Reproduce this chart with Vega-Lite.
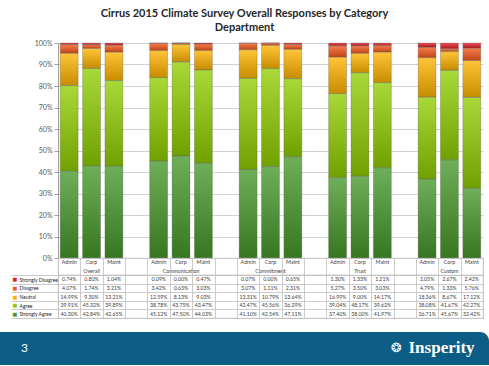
{
  "$schema": "https://vega.github.io/schema/vega-lite/v6.json",
  "padding": {"top": 8, "left": 0, "right": 0, "bottom": 0},
  "background": "white",
  "config": {"font": "Lato", "view": {"stroke": null}},
  "title": {
    "text": ["Cirrus 2015 Climate Survey Overall Responses by Category", "Department"],
    "font": "Lato", "fontSize": 11, "fontWeight": "bold", "color": "#262626",
    "lineHeight": 14, "offset": 6, "anchor": "middle", "frame": "bounds"
  },
  "datasets": {
    "survey": [
      {"group": "Overall", "dept": "Admin", "Strongly Disagree": 0.0074, "Disagree": 0.0407, "Neutral": 0.1499, "Agree": 0.3991, "Strongly Agree": 0.4030},
      {"group": "Overall", "dept": "Corp", "Strongly Disagree": 0.0080, "Disagree": 0.0174, "Neutral": 0.0930, "Agree": 0.4532, "Strongly Agree": 0.4284},
      {"group": "Overall", "dept": "Maint", "Strongly Disagree": 0.0104, "Disagree": 0.0321, "Neutral": 0.1321, "Agree": 0.3989, "Strongly Agree": 0.4265},
      {"group": "Communication", "dept": "Admin", "Strongly Disagree": 0.0009, "Disagree": 0.0342, "Neutral": 0.1259, "Agree": 0.3878, "Strongly Agree": 0.4512},
      {"group": "Communication", "dept": "Corp", "Strongly Disagree": 0.0000, "Disagree": 0.0063, "Neutral": 0.0813, "Agree": 0.4375, "Strongly Agree": 0.4750},
      {"group": "Communication", "dept": "Maint", "Strongly Disagree": 0.0047, "Disagree": 0.0303, "Neutral": 0.0903, "Agree": 0.4347, "Strongly Agree": 0.4403},
      {"group": "Commitment", "dept": "Admin", "Strongly Disagree": 0.0007, "Disagree": 0.0307, "Neutral": 0.1331, "Agree": 0.4247, "Strongly Agree": 0.4110},
      {"group": "Commitment", "dept": "Corp", "Strongly Disagree": 0.0000, "Disagree": 0.0111, "Neutral": 0.1079, "Agree": 0.4556, "Strongly Agree": 0.4254},
      {"group": "Commitment", "dept": "Maint", "Strongly Disagree": 0.0065, "Disagree": 0.0231, "Neutral": 0.1364, "Agree": 0.3629, "Strongly Agree": 0.4711},
      {"group": "Trust", "dept": "Admin", "Strongly Disagree": 0.0130, "Disagree": 0.0527, "Neutral": 0.1699, "Agree": 0.3904, "Strongly Agree": 0.3740},
      {"group": "Trust", "dept": "Corp", "Strongly Disagree": 0.0133, "Disagree": 0.0350, "Neutral": 0.0900, "Agree": 0.4817, "Strongly Agree": 0.3800},
      {"group": "Trust", "dept": "Maint", "Strongly Disagree": 0.0121, "Disagree": 0.0303, "Neutral": 0.1417, "Agree": 0.3962, "Strongly Agree": 0.4197},
      {"group": "Custom", "dept": "Admin", "Strongly Disagree": 0.0205, "Disagree": 0.0479, "Neutral": 0.1836, "Agree": 0.3808, "Strongly Agree": 0.3671},
      {"group": "Custom", "dept": "Corp", "Strongly Disagree": 0.0267, "Disagree": 0.0133, "Neutral": 0.0867, "Agree": 0.4167, "Strongly Agree": 0.4567},
      {"group": "Custom", "dept": "Maint", "Strongly Disagree": 0.0242, "Disagree": 0.0576, "Neutral": 0.1712, "Agree": 0.4227, "Strongly Agree": 0.3242}
    ]
  },
  "vconcat": [
    {
      "width": 425,
      "height": 215,
      "data": {"name": "survey"},
      "transform": [
        {"fold": ["Strongly Disagree", "Disagree", "Neutral", "Agree", "Strongly Agree"], "as": ["level", "pct"]},
        {"calculate": "datum.group + ' ' + datum.dept", "as": "slot"},
        {"calculate": "indexof(['Strongly Agree','Agree','Neutral','Disagree','Strongly Disagree'], datum.level)", "as": "rank"}
      ],
      "encoding": {
        "x": {
          "field": "slot", "type": "nominal",
          "scale": {
            "domain": ["Overall Admin", "Overall Corp", "Overall Maint", "gap1", "Communication Admin", "Communication Corp", "Communication Maint", "gap2", "Commitment Admin", "Commitment Corp", "Commitment Maint", "gap3", "Trust Admin", "Trust Corp", "Trust Maint", "gap4", "Custom Admin", "Custom Corp", "Custom Maint"],
            "paddingInner": 0.2, "paddingOuter": 0.1
          },
          "axis": null
        },
        "y": {
          "field": "pct", "type": "quantitative", "stack": "normalize",
          "scale": {"domain": [0, 1], "nice": false},
          "axis": {
            "title": null, "values": [0, 0.1, 0.2, 0.3, 0.4, 0.5, 0.6, 0.7, 0.8, 0.9, 1],
            "format": ".0%", "labelFontSize": 7, "labelColor": "#595959", "labelPadding": 2,
            "tickSize": 4, "tickColor": "#868686", "tickWidth": 0.8,
            "domainColor": "#868686", "domainWidth": 0.8,
            "grid": true, "gridColor": "#c6c6c6", "gridWidth": 0.8
          }
        },
        "order": {"field": "rank", "type": "quantitative"}
      },
      "layer": [
        {
          "mark": {"type": "bar"},
          "encoding": {
            "color": {
              "field": "level", "type": "nominal",
              "scale": {"domain": ["Strongly Disagree", "Disagree", "Neutral", "Agree", "Strongly Agree"], "range": ["#e21f26", "#f4581c", "#ffb300", "#8fce00", "#46982a"]},
              "legend": null
            }
          }
        },
        {
          "mark": {
            "type": "bar",
            "fill": {"gradient": "linear", "x1": 0, "y1": 0, "x2": 0, "y2": 1, "stops": [{"offset": 0, "color": "rgba(255,255,255,0.22)"}, {"offset": 1, "color": "rgba(0,0,0,0.22)"}]},
            "stroke": "#5f5f5f", "strokeWidth": 0.5, "strokeOpacity": 0.6
          },
          "encoding": {"detail": {"field": "level", "type": "nominal"}}
        }
      ]
    },
    {
      "width": 425,
      "height": 17,
      "view": {"stroke": "#bfbfbf", "strokeWidth": 0.8},
      "data": {"name": "survey"},
      "transform": [{"calculate": "datum.group + ' ' + datum.dept", "as": "slot"}],
      "encoding": {
        "x": {
          "field": "slot", "type": "nominal",
          "scale": {
            "domain": ["Overall Admin", "Overall Corp", "Overall Maint", "gap1", "Communication Admin", "Communication Corp", "Communication Maint", "gap2", "Commitment Admin", "Commitment Corp", "Commitment Maint", "gap3", "Trust Admin", "Trust Corp", "Trust Maint", "gap4", "Custom Admin", "Custom Corp", "Custom Maint"],
            "paddingInner": 0, "paddingOuter": 0
          },
          "axis": {"orient": "top", "title": null, "labels": false, "ticks": false, "domain": false, "grid": true, "tickBand": "extent", "gridColor": "#bfbfbf", "gridWidth": 0.8}
        }
      },
      "layer": [
        {
          "transform": [{"filter": "datum.dept === 'Corp'"}],
          "mark": {"type": "rect", "fill": "white", "stroke": "white", "strokeWidth": 1.6},
          "encoding": {"y": {"datum": "h2", "type": "nominal", "scale": {"domain": ["h1", "h2"], "paddingInner": 0, "paddingOuter": 0}, "axis": null}}
        },
        {
          "mark": {"type": "text", "fontSize": 5.3, "color": "#404040"},
          "encoding": {"y": {"datum": "h1", "type": "nominal", "axis": null}, "text": {"field": "dept"}}
        },
        {
          "transform": [{"filter": "datum.dept === 'Corp'"}],
          "mark": {"type": "text", "fontSize": 5.3, "color": "#404040"},
          "encoding": {"y": {"datum": "h2", "type": "nominal", "axis": null}, "text": {"field": "group"}}
        }
      ]
    },
    {
      "width": 425,
      "height": 43,
      "view": {"stroke": "#bfbfbf", "strokeWidth": 0.8},
      "data": {"name": "survey"},
      "transform": [
        {"fold": ["Strongly Disagree", "Disagree", "Neutral", "Agree", "Strongly Agree"], "as": ["level", "pct"]},
        {"calculate": "datum.group + ' ' + datum.dept", "as": "slot"}
      ],
      "encoding": {
        "x": {
          "field": "slot", "type": "nominal",
          "scale": {
            "domain": ["Overall Admin", "Overall Corp", "Overall Maint", "gap1", "Communication Admin", "Communication Corp", "Communication Maint", "gap2", "Commitment Admin", "Commitment Corp", "Commitment Maint", "gap3", "Trust Admin", "Trust Corp", "Trust Maint", "gap4", "Custom Admin", "Custom Corp", "Custom Maint"],
            "paddingInner": 0, "paddingOuter": 0
          },
          "axis": {"orient": "top", "title": null, "labels": false, "ticks": false, "domain": false, "grid": true, "tickBand": "extent", "gridColor": "#bfbfbf", "gridWidth": 0.8}
        }
      },
      "layer": [
        {
          "mark": {"type": "text", "fontSize": 5.2, "color": "#404040"},
          "encoding": {
            "y": {
              "field": "level", "type": "nominal",
              "scale": {"domain": ["Strongly Disagree", "Disagree", "Neutral", "Agree", "Strongly Agree"], "paddingInner": 0, "paddingOuter": 0},
              "axis": {
                "orient": "left", "title": null, "labelAlign": "left", "labelPadding": -8,
                "labelFontSize": 5, "labelColor": "#262626",
                "tickSize": 47, "tickBand": "extent", "tickColor": "#bfbfbf", "tickWidth": 0.8,
                "domain": false, "grid": true, "gridColor": "#bfbfbf", "gridWidth": 0.8
              }
            },
            "text": {"field": "pct", "type": "quantitative", "format": ".2%"}
          }
        },
        {
          "mark": {"type": "text", "opacity": 0},
          "encoding": {
            "y": {
              "field": "level", "type": "nominal",
              "axis": {
                "orient": "left", "title": null, "labelExpr": "'■'", "labelAlign": "left", "labelPadding": 46,
                "labelFontSize": 5, "labelFont": "DejaVu Sans",
                "labelColor": {
                  "condition": [
                    {"test": "datum.value === 'Strongly Disagree'", "value": "#e21f26"},
                    {"test": "datum.value === 'Disagree'", "value": "#f4581c"},
                    {"test": "datum.value === 'Neutral'", "value": "#ffb300"},
                    {"test": "datum.value === 'Agree'", "value": "#8fce00"}
                  ],
                  "value": "#46982a"
                },
                "ticks": false, "domain": false, "grid": false
              }
            },
            "text": {"value": ""}
          }
        }
      ],
      "resolve": {"axis": {"y": "independent"}}
    },
    {
      "width": 425,
      "height": 47,
      "data": {"values": [{"page": "3", "brand": "Insperity"}]},
      "encoding": {
        "y": {"datum": "band", "type": "nominal", "scale": {"paddingInner": 0, "paddingOuter": 0.212, "align": 1}, "axis": null}
      },
      "layer": [
        {
          "mark": {"type": "rect", "color": "#0c5d86", "cornerRadiusTopRight": 9},
          "encoding": {
            "x": {"datum": 0, "type": "quantitative", "scale": {"domain": [0, 1], "range": [-58, 431], "nice": false, "zero": false}, "axis": null},
            "x2": {"datum": 1}
          }
        },
        {
          "mark": {"type": "text", "color": "white", "fontSize": 12, "font": "Lato"},
          "encoding": {"x": {"datum": 0.05, "type": "quantitative"}, "text": {"field": "page"}}
        },
        {
          "mark": {"type": "text", "color": "white", "fontSize": 13, "font": "DejaVu Sans"},
          "encoding": {"x": {"datum": 0.81, "type": "quantitative"}, "text": {"value": "❂"}}
        },
        {
          "mark": {"type": "text", "color": "white", "fontSize": 17, "font": "Liberation Serif", "fontWeight": "bold"},
          "encoding": {"x": {"datum": 0.903, "type": "quantitative"}, "text": {"field": "brand"}}
        }
      ]
    }
  ],
  "spacing": 0,
  "bounds": "flush",
  "resolve": {"scale": {"x": "independent", "y": "independent"}}
}
